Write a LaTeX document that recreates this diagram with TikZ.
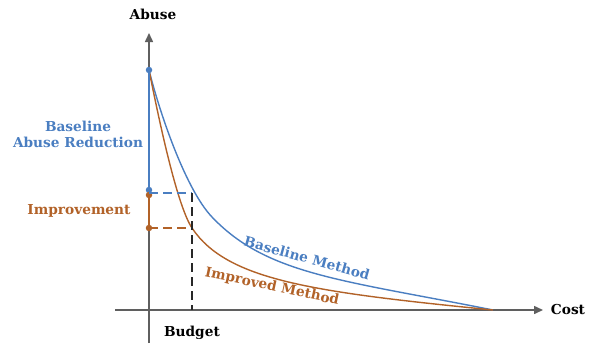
\documentclass[tikz,border=0pt]{standalone}
\usepackage{fontspec}
\setmainfont{DejaVu Serif}
\usetikzlibrary{arrows.meta}
\definecolor{bl}{RGB}{74,126,193}
\definecolor{br}{RGB}{178,98,40}
\definecolor{ax}{RGB}{95,95,95}
\definecolor{dk}{RGB}{40,40,40}
\begin{document}
\begin{tikzpicture}[x=1pt,y=-1pt,
  axis/.style={draw=ax,line width=1.5pt,-{Triangle[length=9pt,width=8pt]}},
  curve/.style={line width=1.4pt},
  lbl/.style={font=\bfseries\fontsize{13.7}{16}\selectfont,inner sep=0pt},
  dot/.style={circle,inner sep=0pt,minimum size=6.5pt},
  dline/.style={line width=1.4pt,dash pattern=on 9pt off 5pt}]
\useasboundingbox[fill=white] (0,0) rectangle (594,346);
% axes
\coordinate (ybot) at (149,343);
\coordinate (ytop) at (149,33);
\coordinate (xl) at (115,310);
\coordinate (xr) at (543,310);
\draw[axis] (ybot) -- (ytop);
\draw[axis] (xl) -- (xr);
\node[lbl] (abuse) at (153,14) {Abuse};
\node[lbl] (cost) at (568,310) {Cost};
\node[lbl] (budget) at (192,333) {Budget};
% key points
\coordinate (top) at (149,70);
\coordinate (end) at (493,310);
\coordinate (bb) at (192,193);
\coordinate (ib) at (192,228);
\coordinate (bx) at (192,310);
\coordinate (bmid) at (212,217);
% curves
\draw[curve,bl] (top) .. controls (161,118) and (187,191) .. (bmid)
  .. controls (267,275) and (343,280) .. (end);
\draw[curve,br] (top) .. controls (159,120) and (177,205.5) .. (ib)
  .. controls (227,280.5) and (313,292) .. (end);
% dots on axis
\node[dot,fill=bl] (d1) at (149,70) {};
\node[dot,fill=bl] (d2) at (149,190) {};
\node[dot,fill=br] (d3) at (149,195) {};
\node[dot,fill=br] (d4) at (149,228) {};
\draw[bl,line width=1.5pt] (d1.center) -- (d2.center);
\draw[br,line width=1.5pt] (d3.center) -- (d4.center);
% dashed
\coordinate (ab) at (149,193);
\draw[dline,bl] (ab) -- (bb);
\draw[dline,br] (d4.center) -- (ib);
\draw[dline,dk] (bb) -- (bx);
% labels
\node[lbl,bl,align=center] (bar) at (78,134) {Baseline\\Abuse Reduction};
\node[lbl,br] (imp) at (79,211) {Improvement};
\node[lbl,bl,rotate=-15.5] (bm) at (307,258) {Baseline Method};
\node[lbl,br,rotate=-12] (im) at (272,287) {Improved Method};
\end{tikzpicture}
\end{document}
